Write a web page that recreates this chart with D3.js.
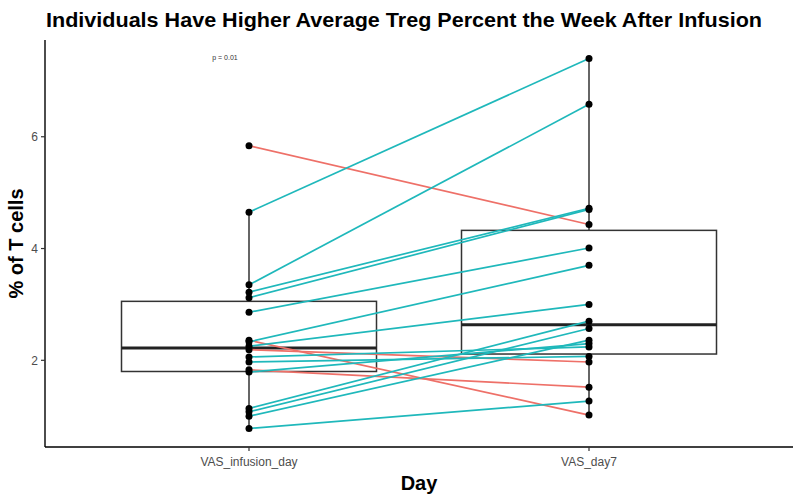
<!DOCTYPE html>
<html>
<head>
<meta charset="utf-8">
<script src="https://cdn.jsdelivr.net/npm/d3@7"></script>
<style>
  body { margin: 0; background: #fff; }
  svg { display: block; font-family: "Liberation Sans", Arial, Helvetica, sans-serif; }
  .tickLabel { fill: #4d4d4d; font-size: 12px; }
  .axisTitle { fill: #000; font-size: 20px; font-weight: bold; }
</style>
</head>
<body>
<div id="chart"></div>
<script>
var days = ["VAS_infusion_day", "VAS_day7"];
// one entry per individual, same order in both arrays
var infusionDay = [5.84, 4.65, 3.35, 3.22, 3.12, 2.86, 2.36, 2.33, 2.25, 2.19, 2.06, 1.97, 1.83, 1.79, 1.14, 1.08, 1.00, 0.78];
var day7        = [4.43, 7.40, 6.58, 4.72, 4.70, 4.01, 1.02, 3.70, 3.00, 1.97, 2.24, 2.07, 1.52, 2.30, 2.70, 2.57, 2.36, 1.27];
var yTicks = [2, 4, 6];
var pLabel = "p = 0.01";
var title = "Individuals Have Higher Average Treg Percent the Week After Infusion";

var width = 800, height = 497;
var plotLeft = 45, plotRight = 793, plotTop = 40, plotBottom = 447;
var upColor = "#1FB8BB", downColor = "#EE7068";

var svg = d3.select("#chart").append("svg")
  .attr("width", width)
  .attr("height", height);

var allVals = infusionDay.concat(day7);
var minVal = d3.min(allVals), maxVal = d3.max(allVals);
var pad = (maxVal - minVal) * 0.05;

var y = d3.scaleLinear()
  .domain([minVal - pad, maxVal + pad])
  .range([plotBottom, plotTop]);

var x = d3.scalePoint()
  .domain(days)
  .range([plotLeft, plotRight])
  .padding(0.6);

var boxWidth = x.step() * 0.75;

// box stats, same quantile method as R default
function boxStats(vals) {
  var s = vals.slice().sort(d3.ascending);
  var q1 = d3.quantileSorted(s, 0.25);
  var med = d3.quantileSorted(s, 0.5);
  var q3 = d3.quantileSorted(s, 0.75);
  var iqr = q3 - q1;
  var lo = d3.min(s.filter(v => v >= q1 - 1.5 * iqr));
  var hi = d3.max(s.filter(v => v <= q3 + 1.5 * iqr));
  return { q1: q1, med: med, q3: q3, lo: lo, hi: hi };
}

var series = [infusionDay, day7];
var boxes = svg.append("g").attr("class", "boxes");
series.forEach((vals, i) => {
  var st = boxStats(vals);
  var cx = x(days[i]);
  var g = boxes.append("g");
  g.append("line")
    .attr("x1", cx).attr("x2", cx)
    .attr("y1", y(st.q3)).attr("y2", y(st.hi))
    .attr("stroke", "#333").attr("stroke-width", 1.5);
  g.append("line")
    .attr("x1", cx).attr("x2", cx)
    .attr("y1", y(st.q1)).attr("y2", y(st.lo))
    .attr("stroke", "#333").attr("stroke-width", 1.5);
  g.append("rect")
    .attr("x", cx - boxWidth / 2)
    .attr("y", y(st.q3))
    .attr("width", boxWidth)
    .attr("height", y(st.q1) - y(st.q3))
    .attr("fill", "#fff")
    .attr("stroke", "#333")
    .attr("stroke-width", 1.5);
  g.append("line")
    .attr("x1", cx - boxWidth / 2).attr("x2", cx + boxWidth / 2)
    .attr("y1", y(st.med)).attr("y2", y(st.med))
    .attr("stroke", "#222").attr("stroke-width", 3);
});

// paired lines
var pairs = infusionDay.map((v, i) => ({ a: v, b: day7[i] }));
svg.append("g").attr("class", "pairs")
  .selectAll("line")
  .data(pairs)
  .enter()
  .append("line")
  .attr("x1", x(days[0]))
  .attr("y1", d => y(d.a))
  .attr("x2", x(days[1]))
  .attr("y2", d => y(d.b))
  .attr("stroke", d => d.b >= d.a ? upColor : downColor)
  .attr("stroke-width", 1.7);

// points
var pts = [];
series.forEach((vals, i) => vals.forEach(v => pts.push({ day: days[i], v: v })));
svg.append("g").attr("class", "points")
  .selectAll("circle")
  .data(pts)
  .enter()
  .append("circle")
  .attr("cx", d => x(d.day))
  .attr("cy", d => y(d.v))
  .attr("r", 3.5)
  .attr("fill", "#000");

// axes
var yAxis = svg.append("g");
yAxis.append("line")
  .attr("x1", plotLeft).attr("x2", plotLeft)
  .attr("y1", plotTop).attr("y2", plotBottom)
  .attr("stroke", "#000").attr("stroke-width", 1.4);
yTicks.forEach(t => {
  yAxis.append("line")
    .attr("x1", plotLeft - 4).attr("x2", plotLeft)
    .attr("y1", y(t)).attr("y2", y(t))
    .attr("stroke", "#333").attr("stroke-width", 1.2);
  yAxis.append("text")
    .attr("class", "tickLabel")
    .attr("x", plotLeft - 7)
    .attr("y", y(t))
    .attr("dy", "0.35em")
    .attr("text-anchor", "end")
    .text(t);
});

var xAxis = svg.append("g");
xAxis.append("line")
  .attr("x1", plotLeft).attr("x2", plotRight)
  .attr("y1", plotBottom).attr("y2", plotBottom)
  .attr("stroke", "#000").attr("stroke-width", 1.4);
days.forEach(dName => {
  xAxis.append("line")
    .attr("x1", x(dName)).attr("x2", x(dName))
    .attr("y1", plotBottom).attr("y2", plotBottom + 4)
    .attr("stroke", "#333").attr("stroke-width", 1.2);
  xAxis.append("text")
    .attr("class", "tickLabel")
    .attr("x", x(dName))
    .attr("y", plotBottom + 19)
    .attr("text-anchor", "middle")
    .text(dName);
});

svg.append("text")
  .attr("class", "axisTitle")
  .attr("x", (plotLeft + plotRight) / 2)
  .attr("y", 490)
  .attr("text-anchor", "middle")
  .text("Day");

svg.append("text")
  .attr("class", "axisTitle")
  .attr("transform", `translate(23, ${(plotTop + plotBottom) / 2}) rotate(-90)`)
  .attr("text-anchor", "middle")
  .text("% of T cells");

svg.append("text")
  .attr("x", 46)
  .attr("y", 27)
  .attr("font-size", "21px")
  .attr("font-weight", "bold")
  .attr("fill", "#000")
  .attr("textLength", 716)
  .attr("lengthAdjust", "spacingAndGlyphs")
  .text(title);

svg.append("text")
  .attr("x", 225)
  .attr("y", 60)
  .attr("font-size", "7px")
  .attr("fill", "#333")
  .attr("text-anchor", "middle")
  .text(pLabel);
</script>
</body>
</html>
